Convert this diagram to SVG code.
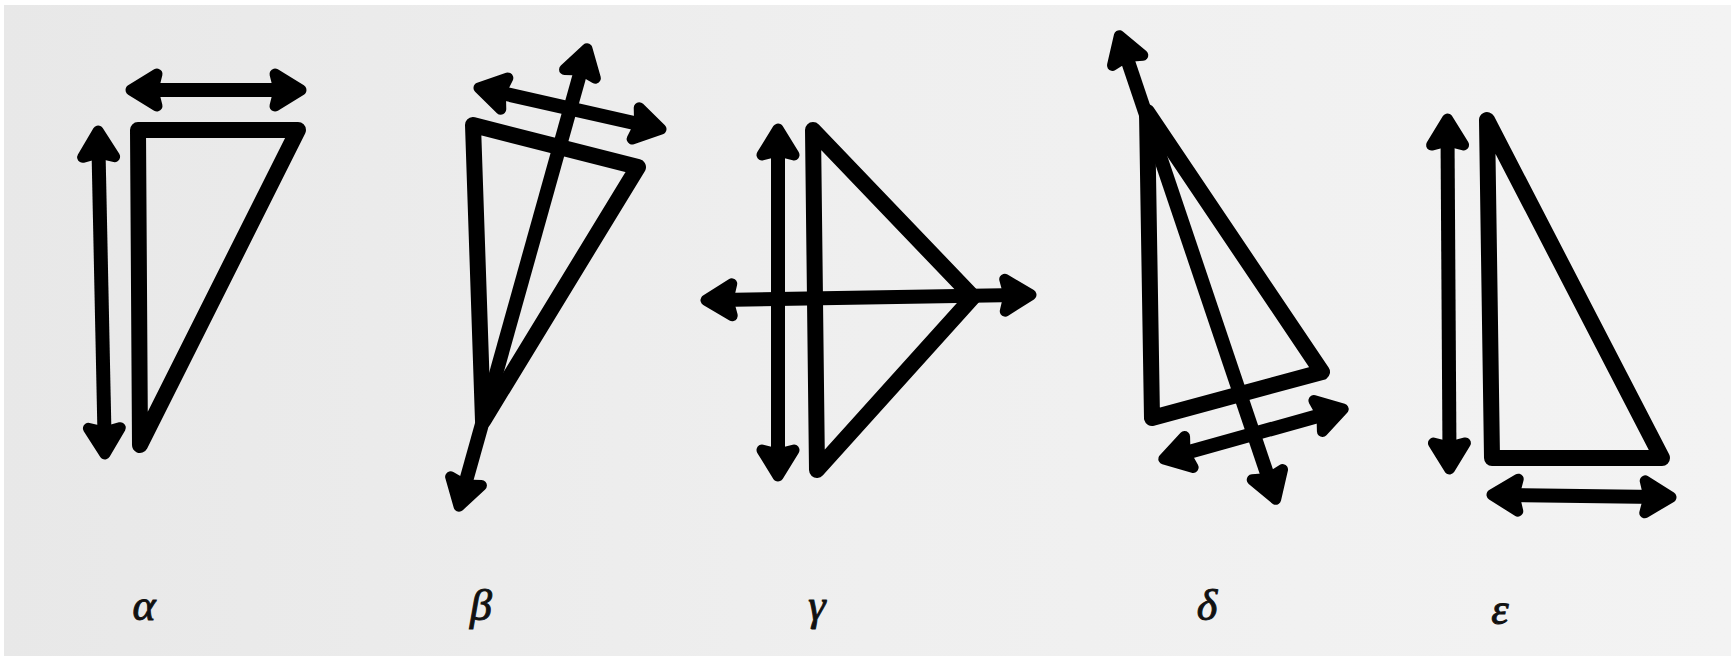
<svg xmlns="http://www.w3.org/2000/svg" width="1731" height="656" viewBox="0 0 1731 656">
<defs>
<linearGradient id="bg" x1="0" y1="0" x2="1" y2="0">
<stop offset="0" stop-color="#e8e8e8"/>
<stop offset="0.5" stop-color="#efefef"/>
<stop offset="1" stop-color="#f3f3f3"/>
</linearGradient>
<marker id="ah" markerUnits="userSpaceOnUse" viewBox="-50 -35 70 70" refX="-17" refY="0" markerWidth="70" markerHeight="70" orient="auto-start-reverse">
<path d="M-29,-16 L-3,0 L-29,16 L-25,0 Z" fill="#000" stroke="#000" stroke-width="11" stroke-linejoin="round"/>
</marker>
<style>
.tri{fill:none;stroke:#000;stroke-width:16;stroke-linejoin:round}
.arr{fill:none;stroke:#000;stroke-width:14;stroke-linecap:butt;marker-start:url(#ah);marker-end:url(#ah)}
.lbl{font-family:"Liberation Serif","DejaVu Serif",serif;font-style:italic;font-size:44px;fill:#111;text-anchor:middle;stroke:#111;stroke-width:1}
</style>
</defs>
<rect width="1731" height="656" fill="url(#bg)"/>
<rect width="1731" height="5" fill="#fff"/>
<rect width="4" height="656" fill="#fff"/>

<g id="alpha">
<polygon class="tri" points="138,130 298,130 140,445"/>
<text class="lbl" x="144" y="620">α</text>
</g>
<g id="beta">
<polygon class="tri" points="473,125 638,167 483,421"/>
<text class="lbl" x="481" y="620">β</text>
</g>
<g id="gamma">
<polygon class="tri" points="813,130 973,297 817,470"/>
<text class="lbl" x="817" y="620">γ</text>
</g>
<g id="delta">
<polygon class="tri" points="1147,112 1322,372 1152,418"/>
<text class="lbl" x="1207" y="620">δ</text>
</g>
<g id="epsilon">
<polygon class="tri" points="1487,120 1492,458 1662,458"/>
<text class="lbl" x="1500" y="624">ε</text>
</g>

<g id="connectors">
<line class="arr" x1="145" y1="90" x2="287" y2="90"/>
<line class="arr" x1="98.4" y1="145" x2="104.6" y2="440"/>
<line class="arr" x1="583.2" y1="62.3" x2="462.8" y2="492.7"/>
<line class="arr" x1="492.6" y1="91" x2="647.4" y2="126"/>
<line class="arr" x1="778" y1="143" x2="778" y2="462"/>
<line class="arr" x1="720" y1="300" x2="1017" y2="295"/>
<line class="arr" x1="1123.8" y1="49" x2="1271.2" y2="486"/>
<line class="arr" x1="1177.3" y1="455.2" x2="1329.7" y2="412.8"/>
<line class="arr" x1="1447.5" y1="133" x2="1449.5" y2="455"/>
<line class="arr" x1="1506" y1="495" x2="1657" y2="497"/>
</g>
</svg>
